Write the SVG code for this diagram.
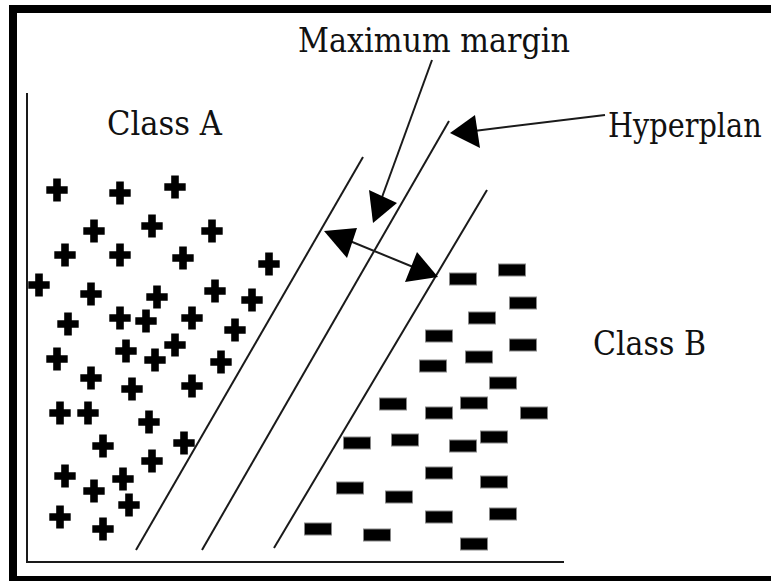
<svg xmlns="http://www.w3.org/2000/svg" xmlns:xlink="http://www.w3.org/1999/xlink" width="771" height="581" viewBox="0 0 771 581">
<defs>
<style>
.ln{stroke:#1a1a1a;stroke-width:2;fill:none}
.ah{fill:#000}
.plus{fill:#000}
.minus{fill:#000;stroke:#888;stroke-width:1}
.lbl{font-family:"DejaVu Serif",serif;font-size:34px;fill:#111}
</style>
<path id="p" class="plus" d="M-3.8,-11.5h7.6v7.7h6.9v7.6h-6.9v7.7h-7.6v-7.7h-6.9v-7.6h6.9z"/>
<rect id="m" class="minus" x="-13.5" y="-6" width="27" height="12"/>
</defs>
<rect x="0" y="0" width="771" height="581" fill="#fff"/>
<g id="frame">
<rect x="13" y="9" width="800" height="571" fill="none" stroke="#000" stroke-width="8"/>
</g>
<g id="axes">
<line class="ln" x1="27" y1="93" x2="27" y2="563"/>
<line class="ln" x1="26" y1="562" x2="564" y2="562"/>
</g>
<g id="class-a-points">
<use xlink:href="#p" x="57" y="190"/>
<use xlink:href="#p" x="120" y="193"/>
<use xlink:href="#p" x="175" y="187"/>
<use xlink:href="#p" x="94" y="231"/>
<use xlink:href="#p" x="152" y="226"/>
<use xlink:href="#p" x="212" y="231"/>
<use xlink:href="#p" x="65" y="255"/>
<use xlink:href="#p" x="120" y="255"/>
<use xlink:href="#p" x="183" y="258"/>
<use xlink:href="#p" x="269" y="264"/>
<use xlink:href="#p" x="39" y="285"/>
<use xlink:href="#p" x="91" y="294"/>
<use xlink:href="#p" x="157" y="297"/>
<use xlink:href="#p" x="215" y="291"/>
<use xlink:href="#p" x="252" y="300"/>
<use xlink:href="#p" x="68" y="324"/>
<use xlink:href="#p" x="120" y="318"/>
<use xlink:href="#p" x="146" y="321"/>
<use xlink:href="#p" x="192" y="318"/>
<use xlink:href="#p" x="235" y="330"/>
<use xlink:href="#p" x="57" y="359"/>
<use xlink:href="#p" x="126" y="351"/>
<use xlink:href="#p" x="155" y="360"/>
<use xlink:href="#p" x="175" y="345"/>
<use xlink:href="#p" x="221" y="362"/>
<use xlink:href="#p" x="91" y="378"/>
<use xlink:href="#p" x="132" y="389"/>
<use xlink:href="#p" x="192" y="386"/>
<use xlink:href="#p" x="60" y="413"/>
<use xlink:href="#p" x="88" y="413"/>
<use xlink:href="#p" x="149" y="422"/>
<use xlink:href="#p" x="103" y="446"/>
<use xlink:href="#p" x="184" y="443"/>
<use xlink:href="#p" x="152" y="461"/>
<use xlink:href="#p" x="65" y="476"/>
<use xlink:href="#p" x="123" y="479"/>
<use xlink:href="#p" x="94" y="491"/>
<use xlink:href="#p" x="129" y="505"/>
<use xlink:href="#p" x="60" y="517"/>
<use xlink:href="#p" x="103" y="529"/>
</g>
<g id="class-b-points">
<use xlink:href="#m" x="463" y="279"/>
<use xlink:href="#m" x="512" y="270"/>
<use xlink:href="#m" x="523" y="303"/>
<use xlink:href="#m" x="482" y="318"/>
<use xlink:href="#m" x="439" y="336"/>
<use xlink:href="#m" x="523" y="345"/>
<use xlink:href="#m" x="479" y="357"/>
<use xlink:href="#m" x="433" y="366"/>
<use xlink:href="#m" x="503" y="383"/>
<use xlink:href="#m" x="393" y="404"/>
<use xlink:href="#m" x="474" y="403"/>
<use xlink:href="#m" x="439" y="413"/>
<use xlink:href="#m" x="534" y="413"/>
<use xlink:href="#m" x="357" y="443"/>
<use xlink:href="#m" x="405" y="440"/>
<use xlink:href="#m" x="463" y="446"/>
<use xlink:href="#m" x="494" y="437"/>
<use xlink:href="#m" x="439" y="473"/>
<use xlink:href="#m" x="494" y="482"/>
<use xlink:href="#m" x="350" y="488"/>
<use xlink:href="#m" x="399" y="497"/>
<use xlink:href="#m" x="439" y="517"/>
<use xlink:href="#m" x="503" y="514"/>
<use xlink:href="#m" x="318" y="529"/>
<use xlink:href="#m" x="377" y="535"/>
<use xlink:href="#m" x="474" y="544"/>
</g>
<g id="margin-lines">
<line class="ln" x1="363" y1="157" x2="136" y2="550"/>
<line class="ln" x1="449" y1="121" x2="202" y2="550"/>
<line class="ln" x1="487" y1="190" x2="274" y2="548"/>
</g>
<g id="label-maximum-margin"><text class="lbl" x="298" y="52" textLength="272" lengthAdjust="spacingAndGlyphs">Maximum margin</text></g>
<g id="label-class-a"><text class="lbl" x="107" y="135" textLength="115" lengthAdjust="spacingAndGlyphs">Class A</text></g>
<g id="label-hyperplan" transform="translate(608,137) scale(0.84,1)"><text class="lbl" x="0" y="0" textLength="183" lengthAdjust="spacingAndGlyphs">Hyperplan</text></g>
<g id="label-class-b"><text class="lbl" x="593" y="355" textLength="113" lengthAdjust="spacingAndGlyphs">Class B</text></g>
<g id="connectors">
<line class="ln" x1="432" y1="60" x2="381" y2="200"/>
<polygon class="ah" points="373,223 369,190 397,203"/>
<line class="ln" x1="605" y1="115" x2="474" y2="131"/>
<polygon class="ah" points="450,133 475,115 480,148"/>
<line class="ln" x1="345" y1="239" x2="418" y2="269"/>
<polygon class="ah" points="324,231 357,228 347,258"/>
<polygon class="ah" points="438,277 417,252 405,282"/>
</g>
</svg>
